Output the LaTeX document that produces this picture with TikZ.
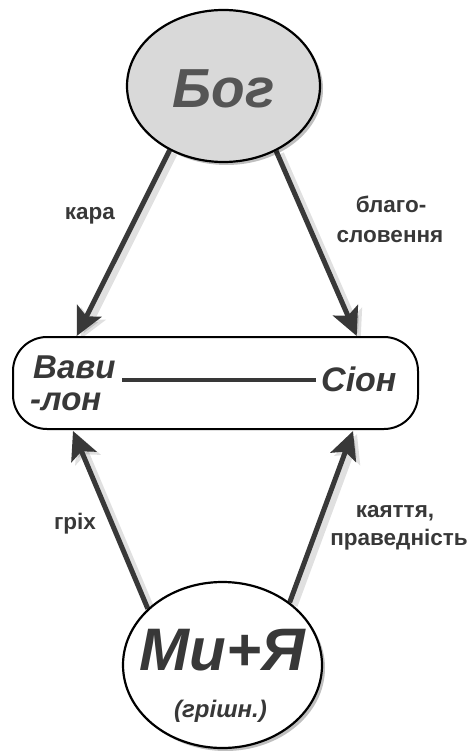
\documentclass[tikz,border=0pt]{standalone}
\usepackage{fontspec}
\setmainfont{Liberation Sans}
\usetikzlibrary{shapes.geometric,arrows.meta,shadows}
\definecolor{ink}{HTML}{383838}
\definecolor{godgray}{HTML}{555555}
\definecolor{fillgray}{HTML}{D9D9D9}
\pgfdeclarelayer{bg}
\pgfsetlayers{bg,main}
\begin{document}
\begin{tikzpicture}[x=1pt,y=-1pt,
  circ/.style={ellipse, draw=black, line width=2.2pt, inner sep=0pt,
    drop shadow={shadow xshift=3pt, shadow yshift=-3pt, opacity=0.25, fill=black}},
  arr/.style={draw=ink, line width=5pt, -{Stealth[length=28pt,width=27pt,inset=6pt]},
    preaction={draw=black, opacity=0.12, line width=8pt, transform canvas={shift={(4pt,-3pt)}}}},
  lbl/.style={text=ink, font=\bfseries\fontsize{22.5}{27}\selectfont, inner sep=0pt, anchor=base},
  big/.style={text=ink, font=\bfseries\itshape\fontsize{#1}{#1}\selectfont, inner sep=0pt},
]
\useasboundingbox (0,0) rectangle (473,751);

% nodes
\node[circ, fill=fillgray, minimum width=193pt, minimum height=152pt] (bog) at (223.5,86) {};
\node[big=55, text=godgray, anchor=base] (bogt) at (223.5,108) {Бог};

\node[draw=black, line width=2pt, rounded corners=34pt, minimum width=405pt,
      minimum height=92pt, fill=white] (box) at (215.5,383) {};
\node[big=33, anchor=base west] (vav1) at (33,378) {Вави};
\node[big=33, anchor=base west] (vav2) at (30,410) {-лон};
\node[big=34, anchor=base west] (sion) at (321,391) {Сіон};
\coordinate (ls) at (122,380);
\coordinate (le) at (316,380);
\draw[ink, line width=4pt] (ls) -- (le);

\node[circ, fill=white, minimum width=199pt, minimum height=166pt] (mi) at (222.5,665) {};
\node[big=60, anchor=base] (mit) at (222.5,670) {Ми+Я};
\node[big=24, anchor=base] (sin) at (220.5,717) {(грішн.)};

% arrow end points
\coordinate (t1) at (76.7,336);
\coordinate (t2) at (356.7,336);
\coordinate (t3) at (73,431);
\coordinate (t4) at (353,431);

\begin{pgfonlayer}{bg}
\draw[arr] (bog.230) -- (t1);
\draw[arr] (bog.309.6) -- (t2);
\draw[arr] (mi.143.9) -- (t3);
\draw[arr] (mi.43.9) -- (t4);
\end{pgfonlayer}

% labels
\node[lbl] (kara) at (90,219) {кара};
\node[lbl] (bl1) at (391,212) {благо-};
\node[lbl] (bl2) at (390,242) {словення};
\node[lbl] (grih) at (75,529) {гріх};
\node[lbl] (ka1) at (395,517) {каяття,};
\node[lbl] (ka2) at (399,545) {праведність};
\end{tikzpicture}
\end{document}
